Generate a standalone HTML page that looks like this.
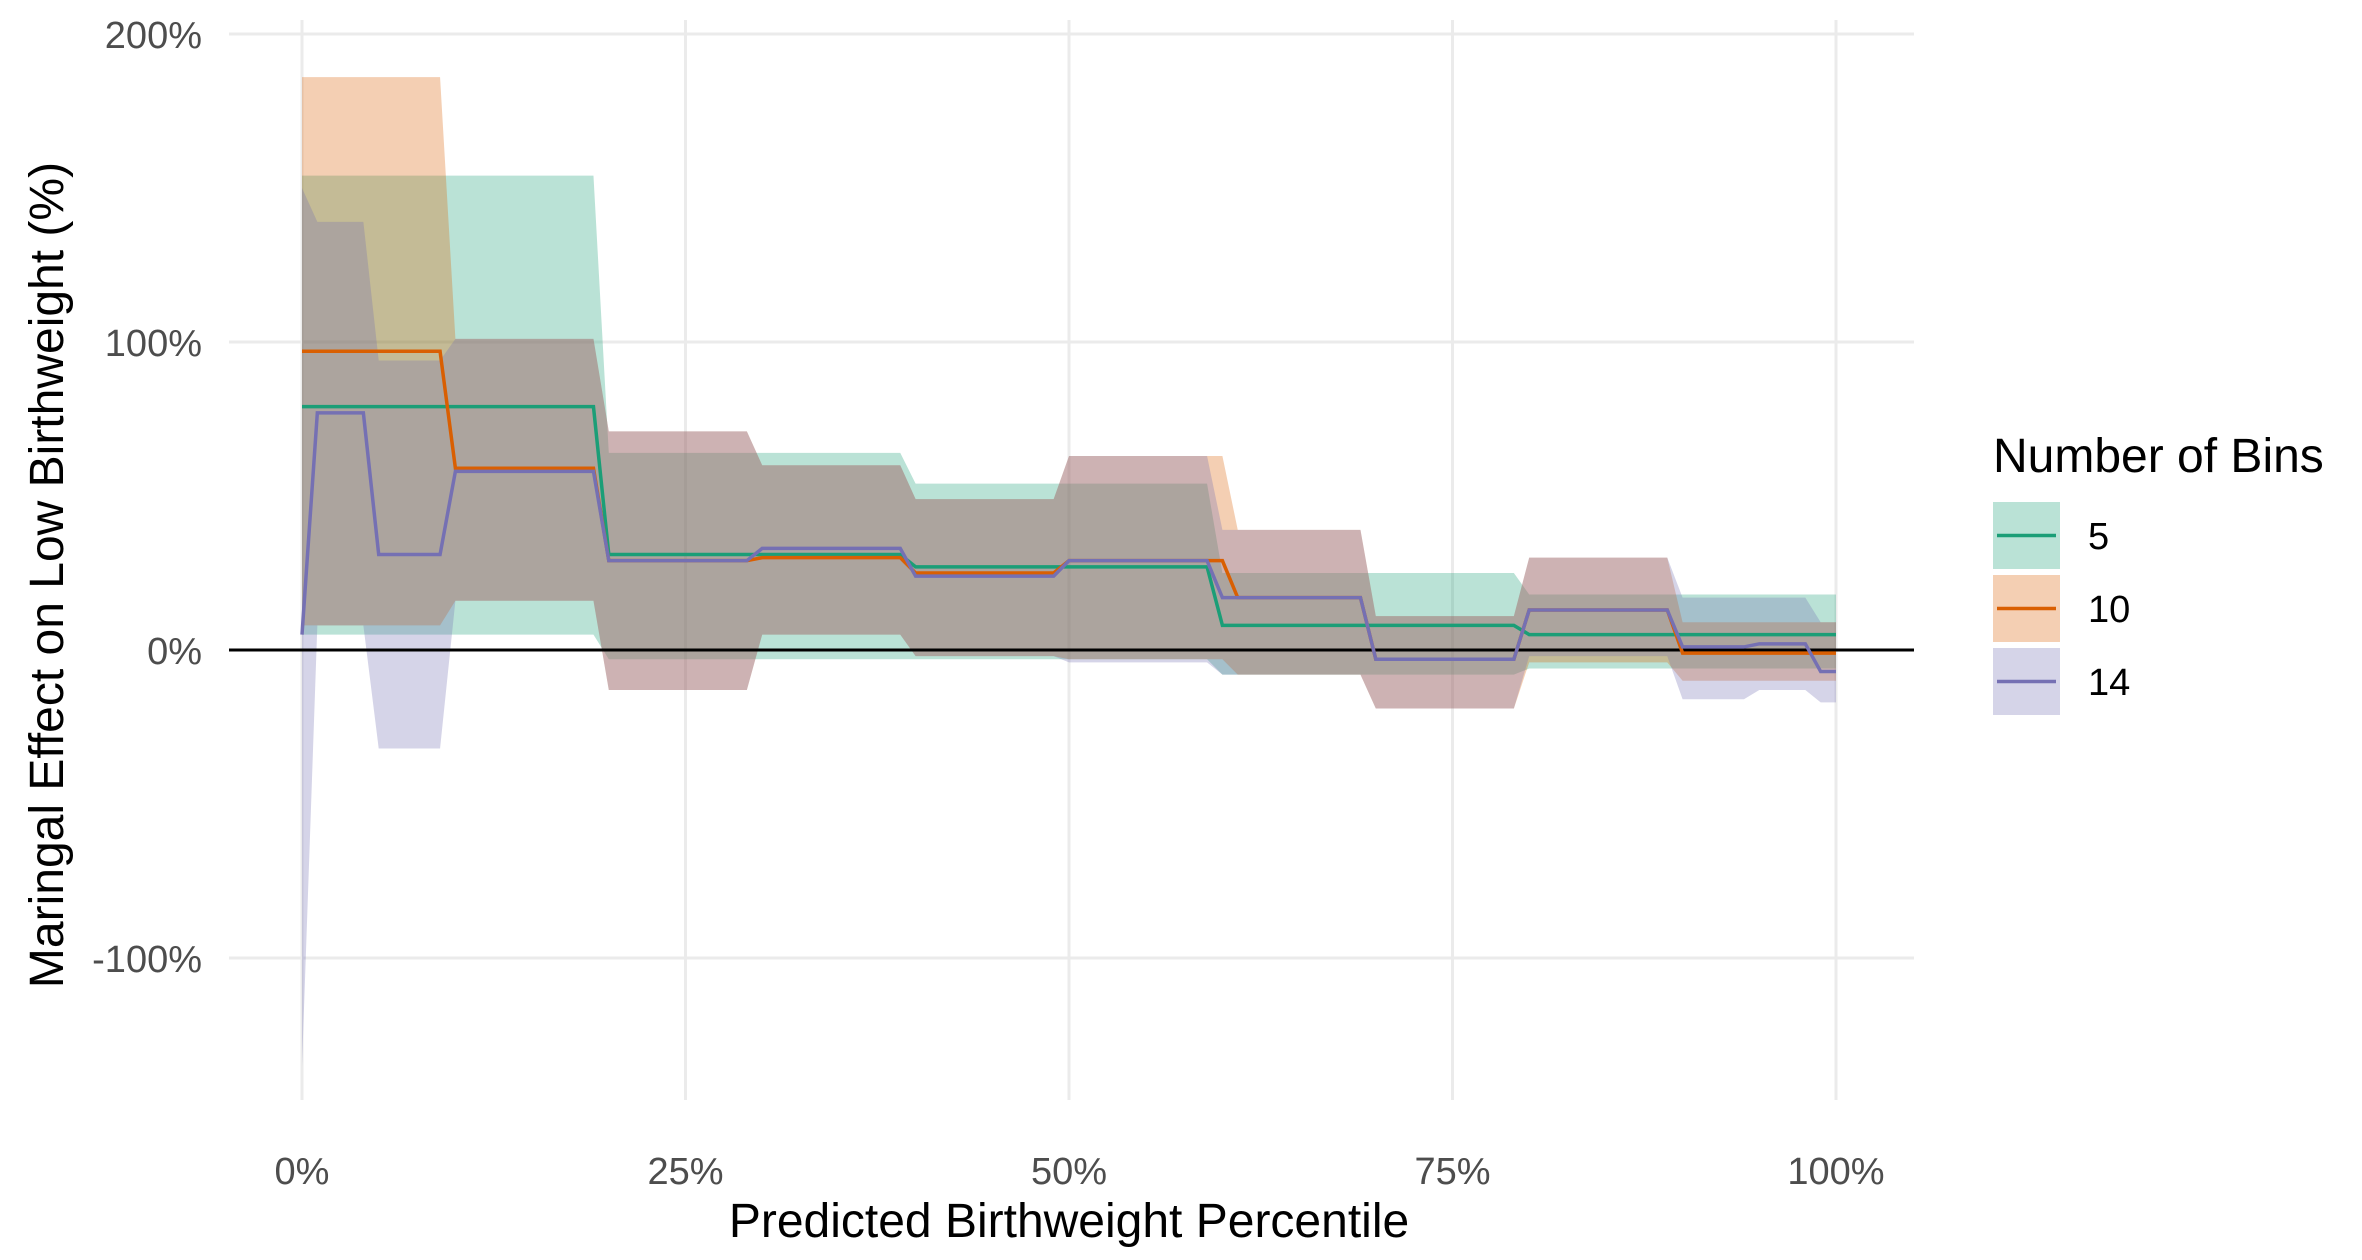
<!DOCTYPE html>
<html><head><meta charset="utf-8"><style>
body{margin:0;background:#fff}
svg{display:block;font-family:"Liberation Sans",sans-serif}
</style></head><body>
<svg id="chart" width="2362" height="1260" viewBox="0 0 2362 1260" xmlns="http://www.w3.org/2000/svg">
<g id="grid"></g>
<g id="bands"></g>
<g id="zero"></g>
<g id="lines"></g>
<g id="axes"></g>
<text x="1069" y="1237" font-size="48" text-anchor="middle" fill="#000">Predicted Birthweight Percentile</text>
<text transform="translate(63,575) rotate(-90)" font-size="48" text-anchor="middle" fill="#000">Maringal Effect on Low Birthweight (%)</text>
<g id="legend">
<text x="1993" y="472" font-size="48" fill="#000">Number of Bins</text>
</g>
</svg>
<script>
const xTicks=[0,25,50,75,100];
const yTicks=[-100,0,100,200];
const seriesNames=["5","10","14"];
const colors=["#1b9e77","#d95f02","#7570b3"];
// series 5 bins
const s5Start=[0,20,40,60,80];
const s5End=[19,39,59,79,100];
const s5Est=[79,31,27,8,5];
const s5Lo=[5,-3,-3,-8,-6];
const s5Hi=[154,64,54,25,18];
// series 10 bins
const s10Start=[0,10,20,30,40,50,61,70,80,90];
const s10End=[9,19,29,39,49,60,69,79,89,100];
const s10Est=[97,59,29,30,25,29,17,-3,13,-1];
const s10Lo=[8,16,-13,5,-2,-3,-8,-19,-4,-10];
const s10Hi=[186,101,71,60,49,63,39,11,30,9];
// series 14 bins
const s14Start=[0,1,5,10,20,30,40,50,60,70,80,90,95,99];
const s14End=[0,4,9,19,29,39,49,59,69,79,89,94,98,100];
const s14Est=[5,77,31,58,29,33,24,29,17,-3,13,1,2,-7];
const s14Lo=[-135,8,-32,16,-13,5,-2,-4,-8,-19,-2,-16,-13,-17];
const s14Hi=[150,139,94,101,71,60,49,63,39,11,30,17,17,9];

const X=p=>302+p*15.34, Y=v=>650-v*3.08;
const NS="http://www.w3.org/2000/svg";
function mk(t,parent,attrs){const e=document.createElementNS(NS,t);for(const k in attrs)e.setAttribute(k,attrs[k]);parent.appendChild(e);return e;}
const grid=document.getElementById('grid'),axes=document.getElementById('axes');
xTicks.forEach(t=>{
  const l=mk('line',grid,{x1:X(t),x2:X(t),y1:20,y2:1100,stroke:'#ebebeb','stroke-width':3});
  
  
  const tx=mk('text',axes,{x:X(t),y:1184,'font-size':38,'text-anchor':'middle',fill:'#4d4d4d'});
  tx.textContent=t+'%';
  
  
});
yTicks.forEach(t=>{
  const l=mk('line',grid,{x1:229,x2:1914,y1:Y(t),y2:Y(t),stroke:'#ebebeb','stroke-width':3});
  
  
  const tx=mk('text',axes,{x:202,y:Y(t)+14,'font-size':38,'text-anchor':'end',fill:'#4d4d4d'});
  tx.textContent=t+'%';
  
  
});
const z=mk('line',document.getElementById('zero'),{x1:229,x2:1914,y1:Y(0),y2:Y(0),stroke:'#000','stroke-width':3});
const series=[[s5Start,s5End,s5Est,s5Lo,s5Hi],[s10Start,s10End,s10Est,s10Lo,s10Hi],[s14Start,s14End,s14Est,s14Lo,s14Hi]];
const bands=document.getElementById('bands'),lines=document.getElementById('lines');
series.forEach((s,i)=>{
  const [st,en,est,lo,hi]=s;
  const pts=a=>{const r=[];st.forEach((x,j)=>{r.push([X(x),Y(a[j])]);r.push([X(en[j]),Y(a[j])]);});return r;};
  const top=pts(hi),bot=pts(lo).reverse(),mid=pts(est);
  const p=mk('polygon',bands,{points:top.concat(bot).map(q=>q.join(',')).join(' '),fill:colors[i],'fill-opacity':0.3});
  
  
  const l=mk('polyline',lines,{points:mid.map(q=>q.join(',')).join(' '),fill:'none',stroke:colors[i],'stroke-width':3.5});
  
  
});
const lg=document.getElementById('legend');
seriesNames.forEach((n,i)=>{
  const y0=502+i*73;
  const g=mk('g',lg,{});
  
  
  mk('rect',g,{x:1993,y:y0,width:67,height:67,fill:colors[i],'fill-opacity':0.3});
  mk('line',g,{x1:1997,x2:2056,y1:y0+33.5,y2:y0+33.5,stroke:colors[i],'stroke-width':3.5});
  const t=mk('text',g,{x:2088,y:y0+47,'font-size':38,fill:'#000'});
  t.textContent=n;
});
</script>
</body></html>
